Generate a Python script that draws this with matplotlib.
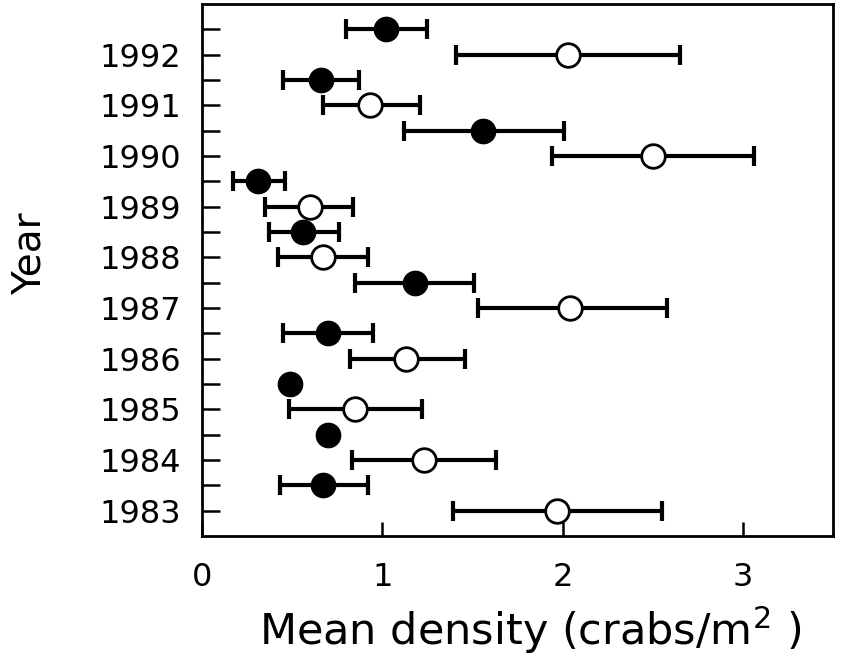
import numpy as np
import matplotlib
matplotlib.use("Agg")
import matplotlib.pyplot as plt

plt.rcParams['font.family'] = ['DejaVu Sans']
plt.rcParams['mathtext.default'] = 'regular'

# Survey years
years = np.array([1983, 1984, 1985, 1986, 1987, 1988, 1989, 1990, 1991, 1992])

# Filled circles: mean density with lower / upper confidence limits
filled_mean = np.array([0.67, 0.70, 0.49, 0.70, 1.18, 0.56, 0.31, 1.56, 0.66, 1.02])
filled_lo   = np.array([0.43, np.nan, np.nan, 0.45, 0.85, 0.37, 0.17, 1.12, 0.45, 0.80])
filled_hi   = np.array([0.92, np.nan, np.nan, 0.95, 1.51, 0.76, 0.46, 2.01, 0.87, 1.25])

# Open circles: mean density with lower / upper confidence limits
open_mean = np.array([1.97, 1.23, 0.85, 1.13, 2.04, 0.67, 0.60, 2.50, 0.93, 2.03])
open_lo   = np.array([1.39, 0.83, 0.48, 0.82, 1.53, 0.42, 0.35, 1.94, 0.67, 1.41])
open_hi   = np.array([2.55, 1.63, 1.22, 1.46, 2.58, 0.92, 0.84, 3.06, 1.21, 2.65])

xticks = [0, 1, 2, 3]

fig = plt.figure(figsize=(8.48, 6.71), dpi=100)
ax = fig.add_axes([0.2382, 0.2012, 0.7441, 0.7928])

err_kw = dict(fmt='none', ecolor='black', elinewidth=3.0, capsize=7.5,
              capthick=3.0, zorder=2)

# filled series sits half a year above the open series
yf = years + 0.5
m = np.isfinite(filled_lo)
ax.errorbar(filled_mean[m], yf[m],
            xerr=[filled_mean[m] - filled_lo[m], filled_hi[m] - filled_mean[m]],
            **err_kw)
ax.plot(filled_mean, yf, 'o', ms=17, mfc='black', mec='black', mew=1.5,
        zorder=3, linestyle='none')

ax.errorbar(open_mean, years,
            xerr=[open_mean - open_lo, open_hi - open_mean], **err_kw)
ax.plot(open_mean, years, 'o', ms=17, mfc='white', mec='black', mew=2.0,
        zorder=3, linestyle='none')

ax.set_xlim(0, 3.5)
ax.set_ylim(1982.5, 1993)
ax.set_xticks(xticks)
ax.set_xticklabels([str(t) for t in xticks])
ax.set_yticks(years)
ax.set_yticklabels([str(y) for y in years])
ax.set_yticks(years + 0.5, minor=True)

for s in ax.spines.values():
    s.set_linewidth(2.0)

ax.tick_params(axis='x', direction='in', length=10, width=1.8, labelsize=23, pad=19)
ax.tick_params(axis='y', which='both', direction='in', length=13, width=1.8,
               labelsize=23, pad=15)
ax.tick_params(axis='y', which='minor', labelleft=False)

ax.set_xlabel('Mean density (crabs/m$^{2}$ )', fontsize=31, labelpad=8)
ax.xaxis.set_label_coords(0.52, -0.128)
ax.set_ylabel('Year', fontsize=28)
ax.yaxis.set_label_coords(-0.243, 0.53)

fig.savefig('out.png', dpi=100)
